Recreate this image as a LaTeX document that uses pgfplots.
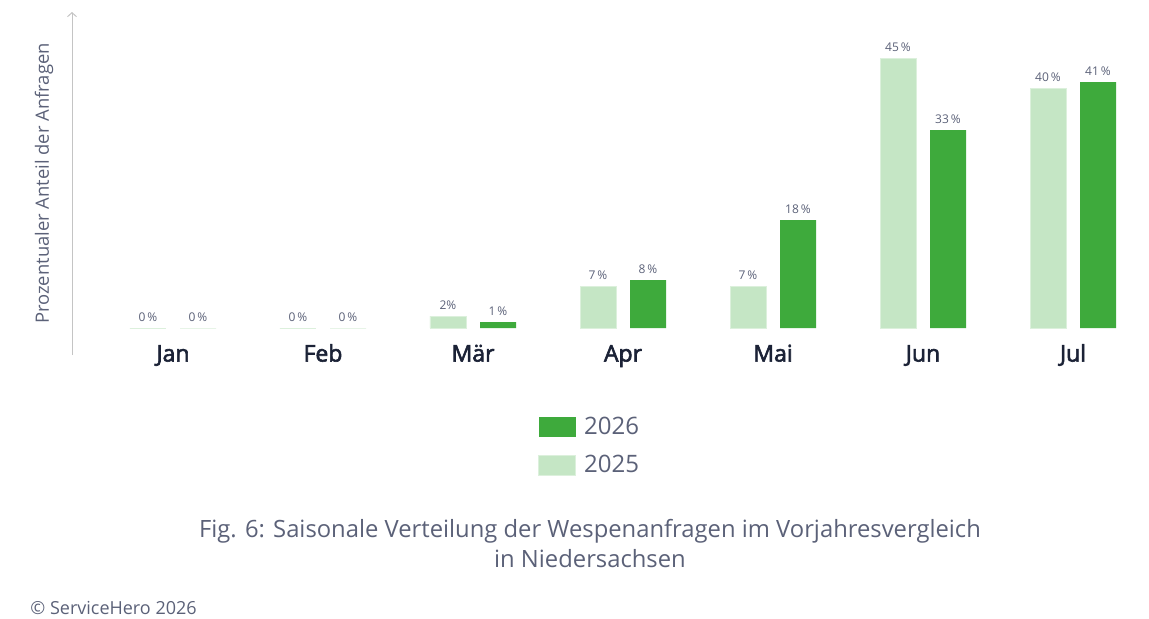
\documentclass[border=0pt]{standalone}
\usepackage{fontspec}
\setmainfont{Open Sans}
\newfontfamily\mediumfont{Open Sans}[FakeBold=2.6]
\usepackage{pgfplots}
\usepackage{pgfplotstable}
\pgfplotsset{compat=1.18}
\usetikzlibrary{arrows.meta}
\definecolor{cdark}{HTML}{3EAA3C}
\definecolor{clight}{HTML}{C5E6C5}
\definecolor{cnavy}{HTML}{1B2236}
\definecolor{cgray}{HTML}{5B6178}
\definecolor{caxis}{HTML}{C4C4C4}

\pgfplotstableread[col sep=comma]{
x,y,lab
0,0,0\,\%
1,0,0\,\%
2,2,2\%
3,7,7\,\%
4,7,7\,\%
5,45,45\,\%
6,40,40\,\%
}\tablelight

\pgfplotstableread[col sep=comma]{
x,y,lab
0,0,0\,\%
1,0,0\,\%
2,1,1\,\%
3,8,8\,\%
4,18,18\,\%
5,33,33\,\%
6,41,41\,\%
}\tabledark

\begin{document}
\begin{tikzpicture}
\path[use as bounding box] (0,0) rectangle (574.5pt,-309pt);
\begin{axis}[
  at={(36pt,-177.5pt)}, anchor=south west,
  scale only axis, width=538pt, height=171.5pt,
  xmin=-0.6733, xmax=6.5, ymin=-4.5, ymax=52.67,
  ybar, bar width=0.24,
  axis y line=left, axis x line*=bottom,
  y axis line style={draw=caxis, line width=0.5pt, -{Straight Barb[length=2pt,width=4.5pt]}},
  x axis line style={draw=none},
  ytick=\empty,
  xtick={0,1,2,3,4,5,6},
  xticklabels={Jan,Feb,Mär,Apr,Mai,Jun,Jul},
  xtick style={draw=none},
  xticklabel style={font=\fontsize{11.5}{13}\mediumfont, text=cnavy, anchor=base, yshift=1pt},
  ylabel={Prozentualer Anteil der Anfragen},
  ylabel style={at={(axis description cs:-0.0214,0.5)}, anchor=base, font=\fontsize{9.2}{11}\selectfont, text=cgray},
  nodes near coords,
  point meta=explicit symbolic,
  every node near coord/.append style={font=\fontsize{6}{7}\selectfont, text=cgray, inner sep=2pt, yshift=1pt},
  legend style={at={(0.4331,-0.168)}, anchor=north west, draw=none, fill=none,
    font=\fontsize{12}{14}\selectfont, text=cgray, row sep=5pt, inner sep=0pt},
  legend cell align=left,
  legend image code/.code={\fill[#1] (0pt,-5pt) rectangle (18.5pt,5pt);},
  clip=false,
]
\addplot[fill=cdark, draw=none, bar shift=0.1667] table[x=x, y=y, meta=lab] {\tabledark};
\addlegendentry{\hspace{2pt}2026}
\addplot[fill=clight, draw=clight!60, line width=0.4pt, bar shift=-0.1667] table[x=x, y=y, meta=lab] {\tablelight};
\addlegendentry{\hspace{2pt}2025}
\end{axis}
\node[align=center, font=\fontsize{11.9}{15}\selectfont, text=cgray] at (295pt,-271.5pt)
  {Fig. 6: Saisonale Verteilung der Wespenanfragen im Vorjahresvergleich\\in Niedersachsen};
\node[anchor=west, inner sep=0pt, font=\fontsize{9}{10}\selectfont, text=cgray] at (15pt,-304pt) {© ServiceHero 2026};
\end{tikzpicture}
\end{document}
